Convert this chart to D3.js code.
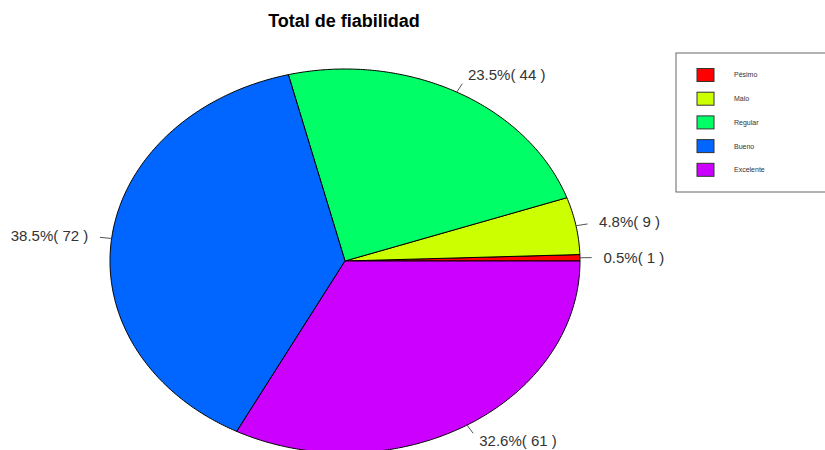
<!DOCTYPE html>
<html>
<head>
<meta charset="utf-8">
<script src="https://cdn.jsdelivr.net/npm/d3@7"></script>
<style>
  body { margin: 0; background: #fff; }
  svg { display: block; font-family: "Liberation Sans", Arial, sans-serif; }
</style>
</head>
<body>
<div id="chart"></div>
<script>
var categorias = ["Pésimo", "Malo", "Regular", "Bueno", "Excelente"];
var valores = [1, 9, 44, 72, 61];
var colores = ["#FF0000", "#CCFF00", "#00FF66", "#0066FF", "#CC00FF"];

var width = 825, height = 450;
var cx = 345, cy = 261, rx = 235, ry = 192;

var svg = d3.select("#chart").append("svg")
    .attr("width", width)
    .attr("height", height);

svg.append("text")
    .attr("x", 344)
    .attr("y", 27)
    .attr("text-anchor", "middle")
    .style("font-size", "18px")
    .style("font-weight", "bold")
    .text("Total de fiabilidad");

var total = d3.sum(valores);
// R draws counter-clockwise starting at 3 o'clock
var angulo = d3.scaleLinear().domain([0, total]).range([0, 2 * Math.PI]);

function punto(t, k) {
    return [cx + k * rx * Math.cos(t), cy - k * ry * Math.sin(t)];
}

var acum = 0;
var slices = valores.map(function (v, i) {
    var s = { i: i, v: v, a0: angulo(acum), a1: angulo(acum + v) };
    acum += v;
    return s;
});

var g = svg.append("g");

slices.forEach(function (s) {
    var n = Math.max(2, Math.ceil((s.a1 - s.a0) / 0.01));
    var pts = [[cx, cy]];
    for (var j = 0; j <= n; j++) {
        pts.push(punto(s.a0 + (s.a1 - s.a0) * j / n, 1));
    }
    g.append("path")
        .attr("d", d3.line()(pts) + "Z")
        .style("fill", colores[s.i])
        .style("stroke", "#000")
        .style("stroke-width", 1);

    var mid = (s.a0 + s.a1) / 2;
    var p1 = punto(mid, 1), p2 = punto(mid, 1.05), p3 = punto(mid, 1.1);
    g.append("line")
        .attr("x1", p1[0]).attr("y1", p1[1])
        .attr("x2", p2[0]).attr("y2", p2[1])
        .style("stroke", "#555")
        .style("stroke-width", 1);

    var pct = (100 * s.v / total).toFixed(1);
    g.append("text")
        .attr("x", p3[0])
        .attr("y", Math.min(p3[1], 441))
        .attr("dy", "0.35em")
        .attr("text-anchor", Math.cos(mid) > 0 ? "start" : "end")
        .style("font-size", "15px")
        .style("fill", "#333")
        .text(pct + "%( " + s.v + " )");
});

// leyenda
var leg = svg.append("g");
leg.append("rect")
    .attr("x", 676).attr("y", 53)
    .attr("width", 160).attr("height", 139)
    .style("fill", "none")
    .style("stroke", "#666")
    .style("stroke-width", 1);

categorias.forEach(function (c, i) {
    var y = 75 + i * 23.7;
    leg.append("rect")
        .attr("x", 697).attr("y", y - 6.5)
        .attr("width", 17).attr("height", 13)
        .style("fill", colores[i])
        .style("stroke", "#333");
    leg.append("text")
        .attr("x", 734).attr("y", y)
        .attr("dy", "0.35em")
        .style("font-size", "7px")
        .style("fill", "#333")
        .text(c);
});
</script>
</body>
</html>
